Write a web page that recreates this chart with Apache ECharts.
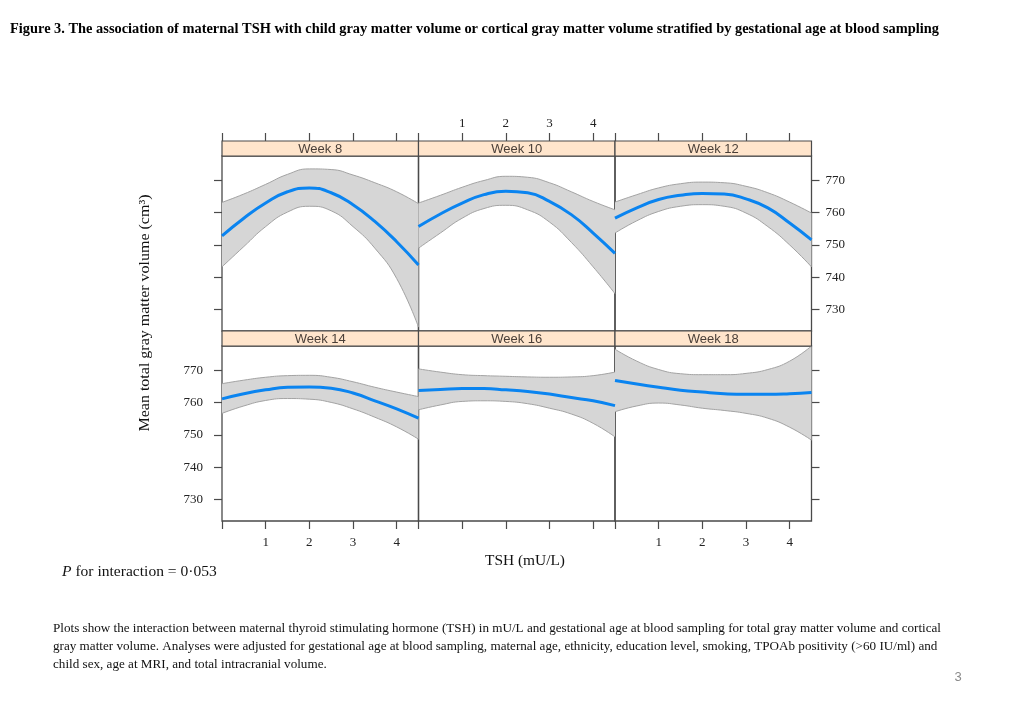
<!DOCTYPE html>
<html><head><meta charset="utf-8">
<script src="https://cdn.jsdelivr.net/npm/echarts@6/dist/echarts.min.js"></script>
<style>html,body{margin:0;padding:0;background:#fff}#c{width:1024px;height:709px}</style>
</head><body><div id="c"></div>
<script>
// ---- data ----
const tsh = ['0', '0.5', '1', '1.5', '2', '2.5', '3', '3.5', '4', '4.5'];
const weeks = ['Week 8', 'Week 10', 'Week 12', 'Week 14', 'Week 16', 'Week 18'];
const yTicks = [730, 740, 750, 760, 770];

const week8Fit   = [752.8, 758.3, 763.0, 766.5, 767.7, 766.2, 762.5, 757.3, 751.0, 743.8];
const week8Upper = [763.2, 765.8, 768.8, 771.9, 773.6, 773.4, 771.7, 769.3, 766.5, 762.8];
const week8Lower = [743.2, 749.5, 755.7, 760.2, 762.0, 760.6, 755.7, 749.0, 739.6, 724.5];

const week10Fit   = [755.7, 759.6, 763.0, 765.6, 766.7, 766.2, 763.5, 759.4, 753.7, 747.4];
const week10Upper = [763.0, 765.4, 767.9, 770.0, 771.3, 771.0, 769.3, 766.5, 763.5, 760.9];
const week10Lower = [749.0, 753.7, 758.3, 761.3, 762.3, 760.9, 757.1, 750.8, 743.2, 734.9];

const week12Fit   = [758.3, 761.5, 764.1, 765.4, 766.0, 765.8, 764.3, 761.5, 756.8, 751.6];
const week12Upper = [763.3, 765.6, 767.7, 769.0, 769.5, 769.3, 768.2, 766.2, 763.3, 759.9];
const week12Lower = [753.7, 757.5, 760.4, 762.0, 762.5, 762.0, 759.9, 755.7, 750.0, 743.2];

const week14Fit   = [761.2, 762.8, 764.0, 764.8, 764.9, 764.5, 763.0, 760.6, 758.1, 755.2];
const week14Upper = [765.9, 767.0, 767.9, 768.4, 768.5, 767.9, 766.5, 764.8, 763.3, 761.9];
const week14Lower = [756.7, 759.0, 760.7, 761.3, 761.1, 760.1, 758.1, 755.5, 752.5, 748.7];

const week16Fit   = [763.8, 764.1, 764.4, 764.4, 764.0, 763.5, 762.7, 761.6, 760.6, 759.1];
const week16Upper = [770.5, 769.5, 768.7, 768.4, 768.2, 768.0, 767.9, 768.0, 768.4, 769.5];
const week16Lower = [757.8, 759.3, 760.4, 760.6, 760.4, 759.7, 758.3, 756.5, 753.6, 749.4];

const week18Fit   = [766.9, 765.8, 764.8, 763.9, 763.3, 762.8, 762.6, 762.6, 762.8, 763.2];
const week18Upper = [776.6, 772.9, 770.3, 769.0, 768.7, 768.7, 769.1, 770.3, 772.9, 777.6];
const week18Lower = [757.2, 759.0, 759.9, 759.3, 758.3, 757.6, 756.7, 755.2, 752.4, 748.4];

const fits   = [week8Fit, week10Fit, week12Fit, week14Fit, week16Fit, week18Fit];
const uppers = [week8Upper, week10Upper, week12Upper, week14Upper, week16Upper, week18Upper];
const lowers = [week8Lower, week10Lower, week12Lower, week14Lower, week16Lower, week18Lower];

const titleText = 'Figure 3. The association of maternal TSH with child gray matter volume or cortical gray matter volume stratified by gestational age at blood sampling';
const yTitle = 'Mean total gray matter volume (cm\u00B3)';
const xTitle = 'TSH (mU/L)';
const pText = 'P for interaction = 0\u00B7053';
const captionLines = [
  'Plots show the interaction between maternal thyroid stimulating hormone (TSH) in mU/L and gestational age at blood sampling for total gray matter volume and cortical',
  'gray matter volume. Analyses were adjusted for gestational age at blood sampling, maternal age, ethnicity, education level, smoking, TPOAb positivity (>60 IU/ml) and',
  'child sex, age at MRI, and total intracranial volume.'
];

// ---- layout ----
const colLeft = [222, 418.5, 615];
const panelW = 196.5;
const rowTop = [156, 346];
const panelH = 175;
const stripH = 15;
const yMin = 723.3, yMax = 777.6;
const SERIF = '"Liberation Serif", "Times New Roman", serif';
const SANS = '"Liberation Sans", Arial, sans-serif';

const mctx = document.createElement('canvas').getContext('2d');
function fit(text, font, target) { mctx.font = font; return target / mctx.measureText(text).width; }

const grids = [], xAxes = [], yAxes = [], series = [], graphics = [];
for (let i = 0; i < 6; i++) {
  const row = Math.floor(i / 3), col = i % 3;
  grids.push({ left: colLeft[col], top: rowTop[row], width: panelW, height: panelH,
    show: true, borderColor: '#4a4a4a', borderWidth: 1.3, backgroundColor: 'transparent' });
  const showXLab = (row === 0 && col === 1) || (row === 1 && col !== 1);
  xAxes.push({ type: 'category', gridIndex: i, data: tsh, boundaryGap: false,
    position: row === 0 ? 'top' : 'bottom', offset: row === 0 ? stripH : 0,
    axisLine: { show: false }, splitLine: { show: false },
    axisTick: { show: true, inside: false, length: 8, interval: 1, lineStyle: { color: '#4a4a4a', width: 1.2 } },
    axisLabel: { show: showXLab, interval: 1, margin: row === 0 ? 11 : 15,
      formatter: v => (v === '0' ? '' : v),
      fontFamily: SERIF, fontSize: 13, color: '#222' } });
  const yShow = col !== 1;
  const yLab = (col === 0 && row === 1) || (col === 2 && row === 0);
  yAxes.push({ type: 'value', gridIndex: i, min: yMin, max: yMax, show: yShow,
    position: col === 2 ? 'right' : 'left',
    axisLine: { show: false }, splitLine: { show: false },
    axisTick: { show: true, inside: false, length: 8, customValues: yTicks, lineStyle: { color: '#4a4a4a', width: 1.2 } },
    axisLabel: { show: yLab, customValues: yTicks, margin: col === 0 ? 19 : 14,
      fontFamily: SERIF, fontSize: 13, color: '#222' } });

  const lo = lowers[i], up = uppers[i], ft = fits[i];
  series.push({ type: 'line', xAxisIndex: i, yAxisIndex: i, stack: 'band' + i, smooth: true, symbol: 'none', z: 3,
    data: lo.slice(), lineStyle: { color: '#a3a3a3', width: 1 }, silent: true });
  series.push({ type: 'line', xAxisIndex: i, yAxisIndex: i, stack: 'band' + i, smooth: true, symbol: 'none', z: 2,
    data: up.map((v, k) => v - lo[k]), lineStyle: { color: '#a3a3a3', width: 1 },
    areaStyle: { color: '#d6d6d6', opacity: 1 }, silent: true });
  series.push({ type: 'line', xAxisIndex: i, yAxisIndex: i, smooth: true, symbol: 'none', z: 4,
    data: ft.slice(), lineStyle: { color: '#0a84f0', width: 3 }, silent: true });

  graphics.push({ type: 'rect', shape: { x: colLeft[col], y: rowTop[row] - stripH, width: panelW, height: stripH },
    style: { fill: '#ffe5cc', stroke: '#4a4a4a', lineWidth: 1.2 }, z: 10 });
  graphics.push({ type: 'text', x: colLeft[col] + panelW / 2, y: rowTop[row] - stripH / 2 + 0.5, z: 11,
    style: { text: weeks[i], font: '13px ' + SANS, fill: '#4a3f38', textAlign: 'center', textVerticalAlign: 'middle' } });
}

const titleFont = 'bold 14px ' + SERIF;
graphics.push({ type: 'text', x: 10, y: 29, scaleX: fit(titleText, titleFont, 929), z: 20,
  style: { text: titleText, font: titleFont, fill: '#000', textAlign: 'left', textVerticalAlign: 'middle' } });
const yTitleFont = '15px ' + SERIF;
graphics.push({ type: 'text', x: 145, y: 313, rotation: Math.PI / 2, scaleX: fit(yTitle, yTitleFont, 237), z: 20,
  style: { text: yTitle, font: yTitleFont, fill: '#111', textAlign: 'center', textVerticalAlign: 'middle' } });
const xTitleFont = '15px ' + SERIF;
graphics.push({ type: 'text', x: 525, y: 561, scaleX: fit(xTitle, xTitleFont, 80), z: 20,
  style: { text: xTitle, font: xTitleFont, fill: '#111', textAlign: 'center', textVerticalAlign: 'middle' } });
const pFont = '15px ' + SERIF;
graphics.push({ type: 'text', x: 62, y: 572, scaleX: fit(pText, pFont, 154), z: 20,
  style: { text: '{i|P}' + pText.slice(1), font: pFont, fill: '#111',
    textAlign: 'left', textVerticalAlign: 'middle',
    rich: { i: { fontStyle: 'italic', fontFamily: SERIF, fontSize: 15 } } } });
const capFont = '11.5px ' + SERIF;
const capScale = fit(captionLines[0], capFont, 888);
captionLines.forEach((t, k) => {
  graphics.push({ type: 'text', x: 53, y: 629 + k * 18, scaleX: capScale, z: 20,
    style: { text: t, font: capFont, fill: '#111', textAlign: 'left', textVerticalAlign: 'middle' } });
});
graphics.push({ type: 'text', x: 958, y: 677, z: 20,
  style: { text: '3', font: '13px ' + SANS, fill: '#8a8a8a', textAlign: 'center', textVerticalAlign: 'middle' } });

const chart = echarts.init(document.getElementById('c'), null, { renderer: 'canvas' });
chart.setOption({
  animation: false,
  backgroundColor: '#fff',
  grid: grids, xAxis: xAxes, yAxis: yAxes, series: series,
  graphic: { elements: graphics }
});
</script></body></html>
